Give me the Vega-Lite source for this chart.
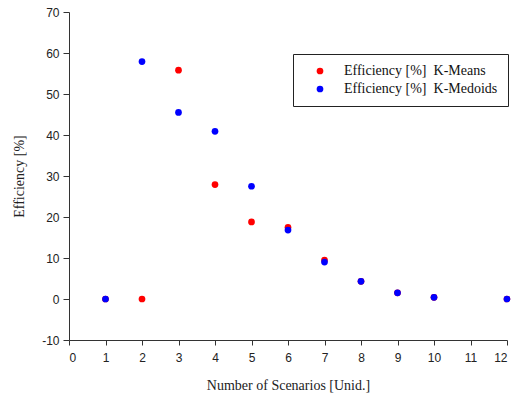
{
  "$schema": "https://vega.github.io/schema/vega-lite/v6.json",
  "autosize": "none",
  "width": 438,
  "height": 328,
  "padding": {"left": 69, "top": 12, "right": 7, "bottom": 59},
  "background": "white",
  "config": {"view": {"stroke": null}},
  "data": {
    "values": [
      {"n": 1, "eff": 0, "series": "Efficiency [%]\u00a0 K-Means"},
      {"n": 2, "eff": 0, "series": "Efficiency [%]\u00a0 K-Means"},
      {"n": 3, "eff": 55.8, "series": "Efficiency [%]\u00a0 K-Means"},
      {"n": 4, "eff": 27.9, "series": "Efficiency [%]\u00a0 K-Means"},
      {"n": 5, "eff": 18.8, "series": "Efficiency [%]\u00a0 K-Means"},
      {"n": 6, "eff": 17.5, "series": "Efficiency [%]\u00a0 K-Means"},
      {"n": 7, "eff": 9.5, "series": "Efficiency [%]\u00a0 K-Means"},
      {"n": 8, "eff": 4.3, "series": "Efficiency [%]\u00a0 K-Means"},
      {"n": 9, "eff": 1.5, "series": "Efficiency [%]\u00a0 K-Means"},
      {"n": 10, "eff": 0.4, "series": "Efficiency [%]\u00a0 K-Means"},
      {"n": 12, "eff": 0, "series": "Efficiency [%]\u00a0 K-Means"},
      {"n": 1, "eff": 0, "series": "Efficiency [%]\u00a0 K-Medoids"},
      {"n": 2, "eff": 57.9, "series": "Efficiency [%]\u00a0 K-Medoids"},
      {"n": 3, "eff": 45.5, "series": "Efficiency [%]\u00a0 K-Medoids"},
      {"n": 4, "eff": 40.9, "series": "Efficiency [%]\u00a0 K-Medoids"},
      {"n": 5, "eff": 27.5, "series": "Efficiency [%]\u00a0 K-Medoids"},
      {"n": 6, "eff": 16.8, "series": "Efficiency [%]\u00a0 K-Medoids"},
      {"n": 7, "eff": 9.0, "series": "Efficiency [%]\u00a0 K-Medoids"},
      {"n": 8, "eff": 4.3, "series": "Efficiency [%]\u00a0 K-Medoids"},
      {"n": 9, "eff": 1.5, "series": "Efficiency [%]\u00a0 K-Medoids"},
      {"n": 10, "eff": 0.4, "series": "Efficiency [%]\u00a0 K-Medoids"},
      {"n": 12, "eff": 0, "series": "Efficiency [%]\u00a0 K-Medoids"}
    ]
  },
  "mark": {"type": "circle", "size": 45, "opacity": 1},
  "encoding": {
    "x": {
      "field": "n", "type": "quantitative",
      "scale": {"domain": [0, 12], "nice": false},
      "axis": {
        "title": "Number of Scenarios [Unid.]",
        "values": [0,1,2,3,4,5,6,7,8,9,10,11,12],
        "grid": false,
        "domainColor": "#333333", "tickColor": "#333333", "tickSize": 5,
        "labelFont": "Liberation Sans", "labelFontSize": 12, "labelColor": "#222222", "labelPadding": 7,
        "titleFont": "Liberation Serif", "titleFontSize": 14, "titleFontWeight": "normal", "titleColor": "#222222", "titlePadding": 15
      }
    },
    "y": {
      "field": "eff", "type": "quantitative",
      "scale": {"domain": [-10, 70], "nice": false},
      "axis": {
        "title": "Efficiency [%]",
        "values": [-10,0,10,20,30,40,50,60,70],
        "labelExpr": "'' + datum.value",
        "grid": false,
        "domainColor": "#333333", "tickColor": "#333333", "tickSize": 6,
        "labelFont": "Liberation Sans", "labelFontSize": 12, "labelColor": "#222222", "labelPadding": 4,
        "titleFont": "Liberation Serif", "titleFontSize": 14, "titleFontWeight": "normal", "titleColor": "#222222", "titlePadding": 15
      }
    },
    "color": {
      "field": "series", "type": "nominal",
      "scale": {"domain": ["Efficiency [%]\u00a0 K-Means", "Efficiency [%]\u00a0 K-Medoids"], "range": ["#ff0000", "#0000ff"]},
      "legend": {
        "title": null,
        "orient": "none", "legendX": 224, "legendY": 42,
        "strokeColor": "#222222", "fillColor": "white",
        "padding": 10,
        "symbolType": "circle", "symbolSize": 45, "symbolOffset": 10,
        "labelFont": "Liberation Serif", "labelFontSize": 14, "labelColor": "#111111", "labelOffset": 17,
        "rowPadding": 4
      }
    },
    "order": {"field": "series", "type": "nominal"}
  }
}
